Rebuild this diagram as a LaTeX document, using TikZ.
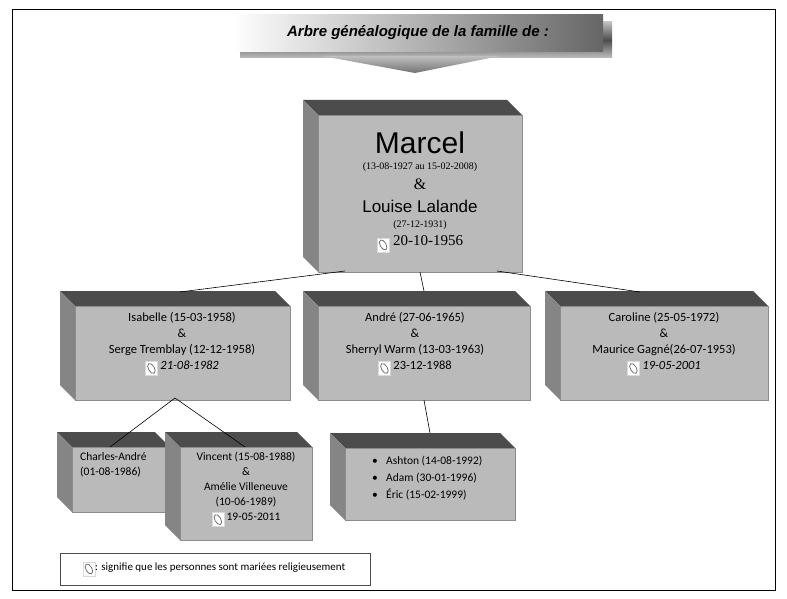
\documentclass[tikz,border=0pt]{standalone}
\usepackage{fontspec}
\setmainfont{Liberation Serif}
\newfontfamily\calfont{Carlito}
\newfontfamily\comic{Liberation Sans}
\begin{document}
\begin{tikzpicture}[x=1pt,y=-1pt,
  front/.style={fill=black!27,draw=black!45,line width=0.4pt},
  topf/.style={fill=black!70},
  leftf/.style={fill=black!48},
  conn/.style={line width=0.6pt},
  txt/.style={inner sep=0pt,align=center}]
\useasboundingbox (0,0) rectangle (787,599);
\fill[white] (0,0) rectangle (787,599);
\draw[line width=1pt] (12,10) rectangle (775,590);
\newcommand\ring{\tikz[baseline=-1pt,x=1pt,y=1pt]{\fill[white,draw=black!15] (-6,-7) rectangle (6,7);\draw[black!55,line width=0.8pt,rotate=30] (0,0) ellipse (3pt and 5.5pt);}}
\newcommand\cube[5]{%
 \fill[topf] (#2-15,#3-15) -- (#4-15,#3-15) -- (#4,#3) -- (#2,#3) -- cycle;
 \fill[leftf] (#2-15,#3-15) -- (#2,#3) -- (#2,#5) -- (#2-15,#5-15) -- cycle;
 \path[front] (#2,#3) rectangle (#4,#5);
 \coordinate (#1) at ({(#2+#4)/2},{(#3+#5)/2});
 \coordinate (#1-n) at ({(#2+#4)/2},#3-15);
 \coordinate (#1-s) at ({(#2+#4)/2},#5);}
% title banner
\shade[top color=black!25,bottom color=black!25,middle color=black!70] (240,22) rectangle (612,58);
\shade[left color=white,right color=black!60] (232,15) rectangle (603,52);
\node[txt,font=\comic\bfseries\itshape\fontsize{15}{15}\selectfont] (title) at (418,33) {Arbre généalogique de la famille de :};
\shade[top color=black!25,bottom color=black!55] (322,56) -- (500,56) -- (415,73) -- cycle;
% boxes
\cube{m}{318}{115}{522}{272}
\cube{i}{75}{306}{290}{400}
\cube{a}{318}{306}{530}{400}
\cube{c}{560}{306}{768}{400}
\cube{ch}{72}{447}{170}{512}
\cube{v}{180}{447}{312}{540}
\cube{as}{345}{448}{515}{520}
% connectors
\coordinate (m1) at (345,271); \coordinate (m3) at (497,271);
\coordinate (i1) at (180,292); \coordinate (c1) at (640,292);
\coordinate (is) at (175,398); \coordinate (ch1) at (110,447); \coordinate (v1) at (245,447);
\draw[conn] (m1) -- (i1); \draw[conn] (m-s) -- (a-n); \draw[conn] (m3) -- (c1);
\draw[conn] (is) -- (ch1); \draw[conn] (is) -- (v1); \draw[conn] (a-s) -- (as-n);
% Marcel text
\node[txt,font=\comic\fontsize{30}{30}\selectfont] (t1) at (420,143) {Marcel};
\node[txt,font=\fontsize{10}{10}\selectfont] (t2) at (420,167) {(13-08-1927 au 15-02-2008)};
\node[txt,font=\fontsize{16}{16}\selectfont] (t3) at (420,184) {\&};
\node[txt,font=\comic\fontsize{17}{17}\selectfont] (t4) at (420,206) {Louise Lalande};
\node[txt,font=\fontsize{10}{10}\selectfont] (t5) at (420,225) {(27-12-1931)};
\node[txt,font=\fontsize{15}{15}\selectfont] (t6) at (420,244) {\ring\ 20-10-1956};
% level 2
\node[txt,font=\calfont\fontsize{12.5}{16}\selectfont] (ti) at (182,344) {Isabelle (15-03-1958)\\\&\\Serge Tremblay (12-12-1958)\\\ring\ \textit{21-08-1982}};
\node[txt,font=\calfont\fontsize{12.5}{16}\selectfont] (ta) at (415,344) {André (27-06-1965)\\\&\\Sherryl Warm (13-03-1963)\\\ring\ 23-12-1988};
\node[txt,font=\calfont\fontsize{12.5}{16}\selectfont] (tc) at (664,344) {Caroline (25-05-1972)\\\&\\Maurice Gagné(26-07-1953)\\\ring\ \textit{19-05-2001}};
% level 3
\node[txt,align=left,font=\calfont\fontsize{11.5}{15}\selectfont,anchor=north west] (tch) at (80,452) {Charles-André\\(01-08-1986)};
\node[txt,font=\calfont\fontsize{11.5}{15}\selectfont,anchor=north] (tv) at (246,452) {Vincent (15-08-1988)\\\&\\Amélie Villeneuve\\(10-06-1989)\\\ring\ 19-05-2011};
\node[txt,align=left,font=\calfont\fontsize{11.5}{17}\selectfont,anchor=north west] (tas) at (372,456) {\makebox[14pt][l]{\textbullet}Ashton (14-08-1992)\\\makebox[14pt][l]{\textbullet}Adam (30-01-1996)\\\makebox[14pt][l]{\textbullet}Éric (15-02-1999)};
% legend
\draw[black!70] (60,553) rectangle (370,585);
\node[txt,font=\calfont\fontsize{11}{11}\selectfont] (leg) at (214,569) {\ring: signifie que les personnes sont mariées religieusement};
\end{tikzpicture}
\end{document}
